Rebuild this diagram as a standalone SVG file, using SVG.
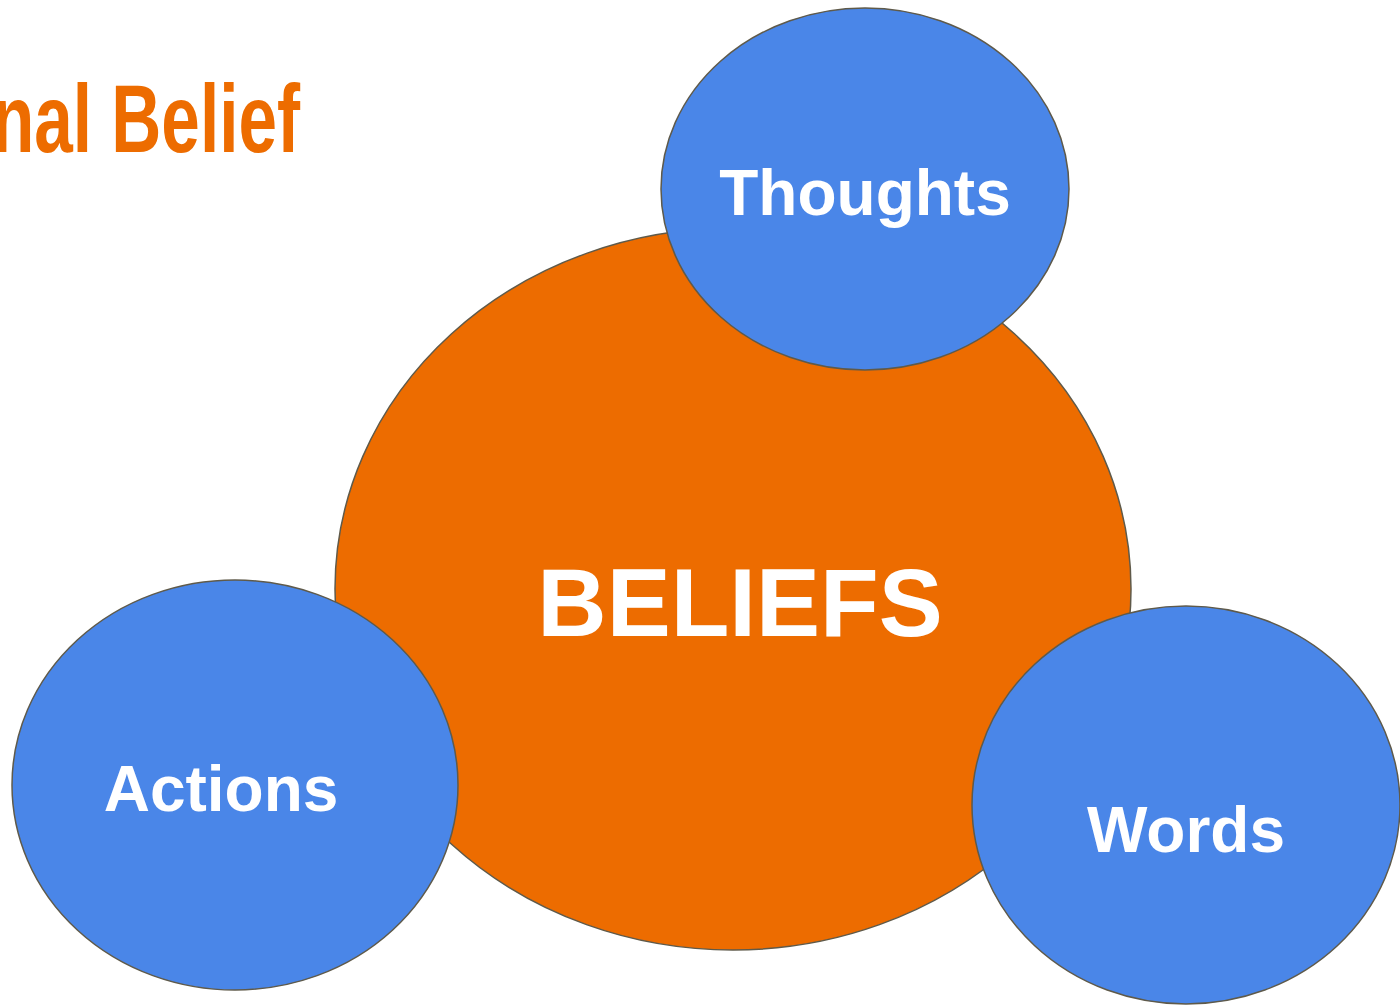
<svg xmlns="http://www.w3.org/2000/svg" width="1400" height="1005" viewBox="0 0 1400 1005">
<style>
.blue{fill:#4a86e8;stroke:#5f5a4a;stroke-width:1.5}
.orange{fill:#ed6c00;stroke:#5f5a4a;stroke-width:1.5}
.lbl{fill:#fff;font-family:"Liberation Sans",Arial,sans-serif;font-weight:bold;text-anchor:middle}
.title{fill:#ed6c00;font-family:"Liberation Sans Narrow","Liberation Sans",sans-serif;font-weight:bold}
</style>
<rect width="1400" height="1005" fill="#fff"/>
<text class="title" x="-8" y="152" font-size="96" textLength="308" lengthAdjust="spacingAndGlyphs">nal Belief</text>
<g id="beliefs">
<ellipse class="orange" cx="733" cy="589" rx="398" ry="361"/>
<text class="lbl" x="740" y="636" font-size="96">BELIEFS</text>
</g>
<g id="thoughts">
<ellipse class="blue" cx="865" cy="189" rx="204" ry="181"/>
<text class="lbl" x="865" y="215" font-size="64">Thoughts</text>
</g>
<g id="actions">
<ellipse class="blue" cx="235" cy="785" rx="223" ry="205"/>
<text class="lbl" x="221" y="811" font-size="64">Actions</text>
</g>
<g id="words">
<ellipse class="blue" cx="1186" cy="805" rx="214" ry="199"/>
<text class="lbl" x="1186" y="852" font-size="64">Words</text>
</g>
<g id="connectors"></g>
</svg>
